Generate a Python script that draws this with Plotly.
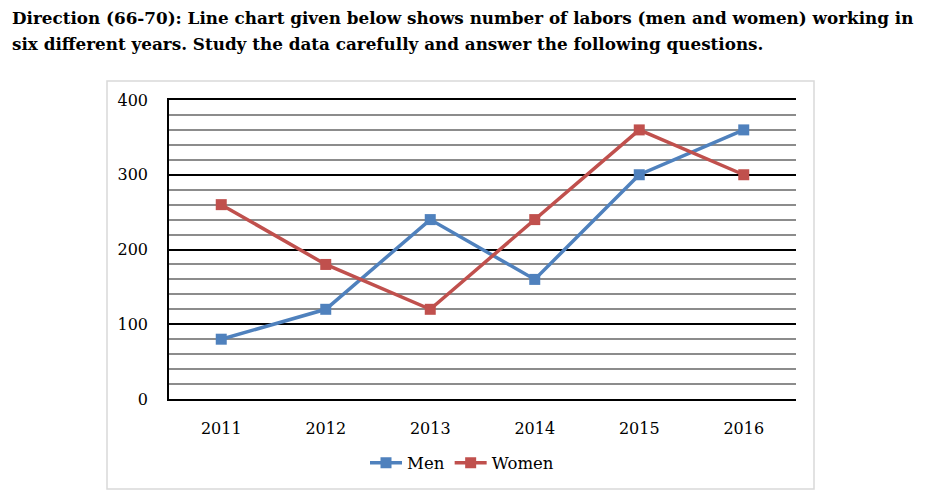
import plotly.graph_objects as go

years = ["2011", "2012", "2013", "2014", "2015", "2016"]
men = [80, 120, 240, 160, 300, 360]
women = [260, 180, 120, 240, 360, 300]
title_lines = [
    "Direction (66-70): Line chart given below shows number of labors (men and women) working in",
    "six different years. Study the data carefully and answer the following questions.",
]

BLUE = "#4F81BD"
RED = "#C0504D"
FONT = "DejaVu Serif"

# page offset of 8px (body margin) compensated: fig coords = picture coords - 8
W, H = 917, 489
L, R, T, B = 161, 788, 92, 391
PW, PH = R - L, B - T


def px(x):
    return (x - 8 - L) / PW


def py(y):
    return (B - (y - 8)) / PH


fig = go.Figure()
fig.add_trace(go.Scatter(x=years, y=men, name="Men", mode="lines+markers",
                         line=dict(color=BLUE, width=3.5),
                         marker=dict(symbol="square", size=11, color=BLUE)))
fig.add_trace(go.Scatter(x=years, y=women, name="Women", mode="lines+markers",
                         line=dict(color=RED, width=3.5),
                         marker=dict(symbol="square", size=11, color=RED)))

fig.update_layout(
    width=W, height=H,
    margin=dict(l=L, r=W - R, t=T, b=H - B),
    paper_bgcolor="white", plot_bgcolor="white",
    font=dict(family=FONT, size=16, color="black"),
    showlegend=True,
    legend=dict(orientation="h", x=px(462), xanchor="center", y=py(463), yanchor="middle",
                font=dict(family=FONT, size=16.5), itemwidth=32, tracegroupgap=0,
                bgcolor="rgba(0,0,0,0)"),
    xaxis=dict(type="category", range=[-0.5, 5.5], showgrid=False, showline=True,
               mirror=True, linecolor="black", linewidth=2, ticks="", zeroline=False,
               ticklabelstandoff=14, tickfont=dict(family=FONT, size=16)),
    yaxis=dict(range=[0, 400], dtick=100, showgrid=True, gridcolor="black", gridwidth=2,
               showline=True, linecolor="black", linewidth=1.5, ticks="", zeroline=False,
               ticklabelstandoff=16, tickfont=dict(family=FONT, size=16),
               minor=dict(dtick=20, showgrid=True, gridcolor="#8C8C8C", gridwidth=1.5)),
)

# chart frame
fig.add_shape(type="rect", xref="paper", yref="paper",
              x0=px(107), x1=px(814), y0=py(489), y1=py(81),
              line=dict(color="#D9D9D9", width=1.5), fillcolor="rgba(0,0,0,0)", layer="below")

for line, yc in zip(title_lines, [18, 44]):
    fig.add_annotation(text="<b>" + line + "</b>",
                       xref="paper", yref="paper",
                       x=px(10), y=py(yc), xanchor="left", yanchor="middle",
                       align="left", showarrow=False,
                       font=dict(family=FONT, size=16.8, color="black"))

fig.write_html("out.html")
